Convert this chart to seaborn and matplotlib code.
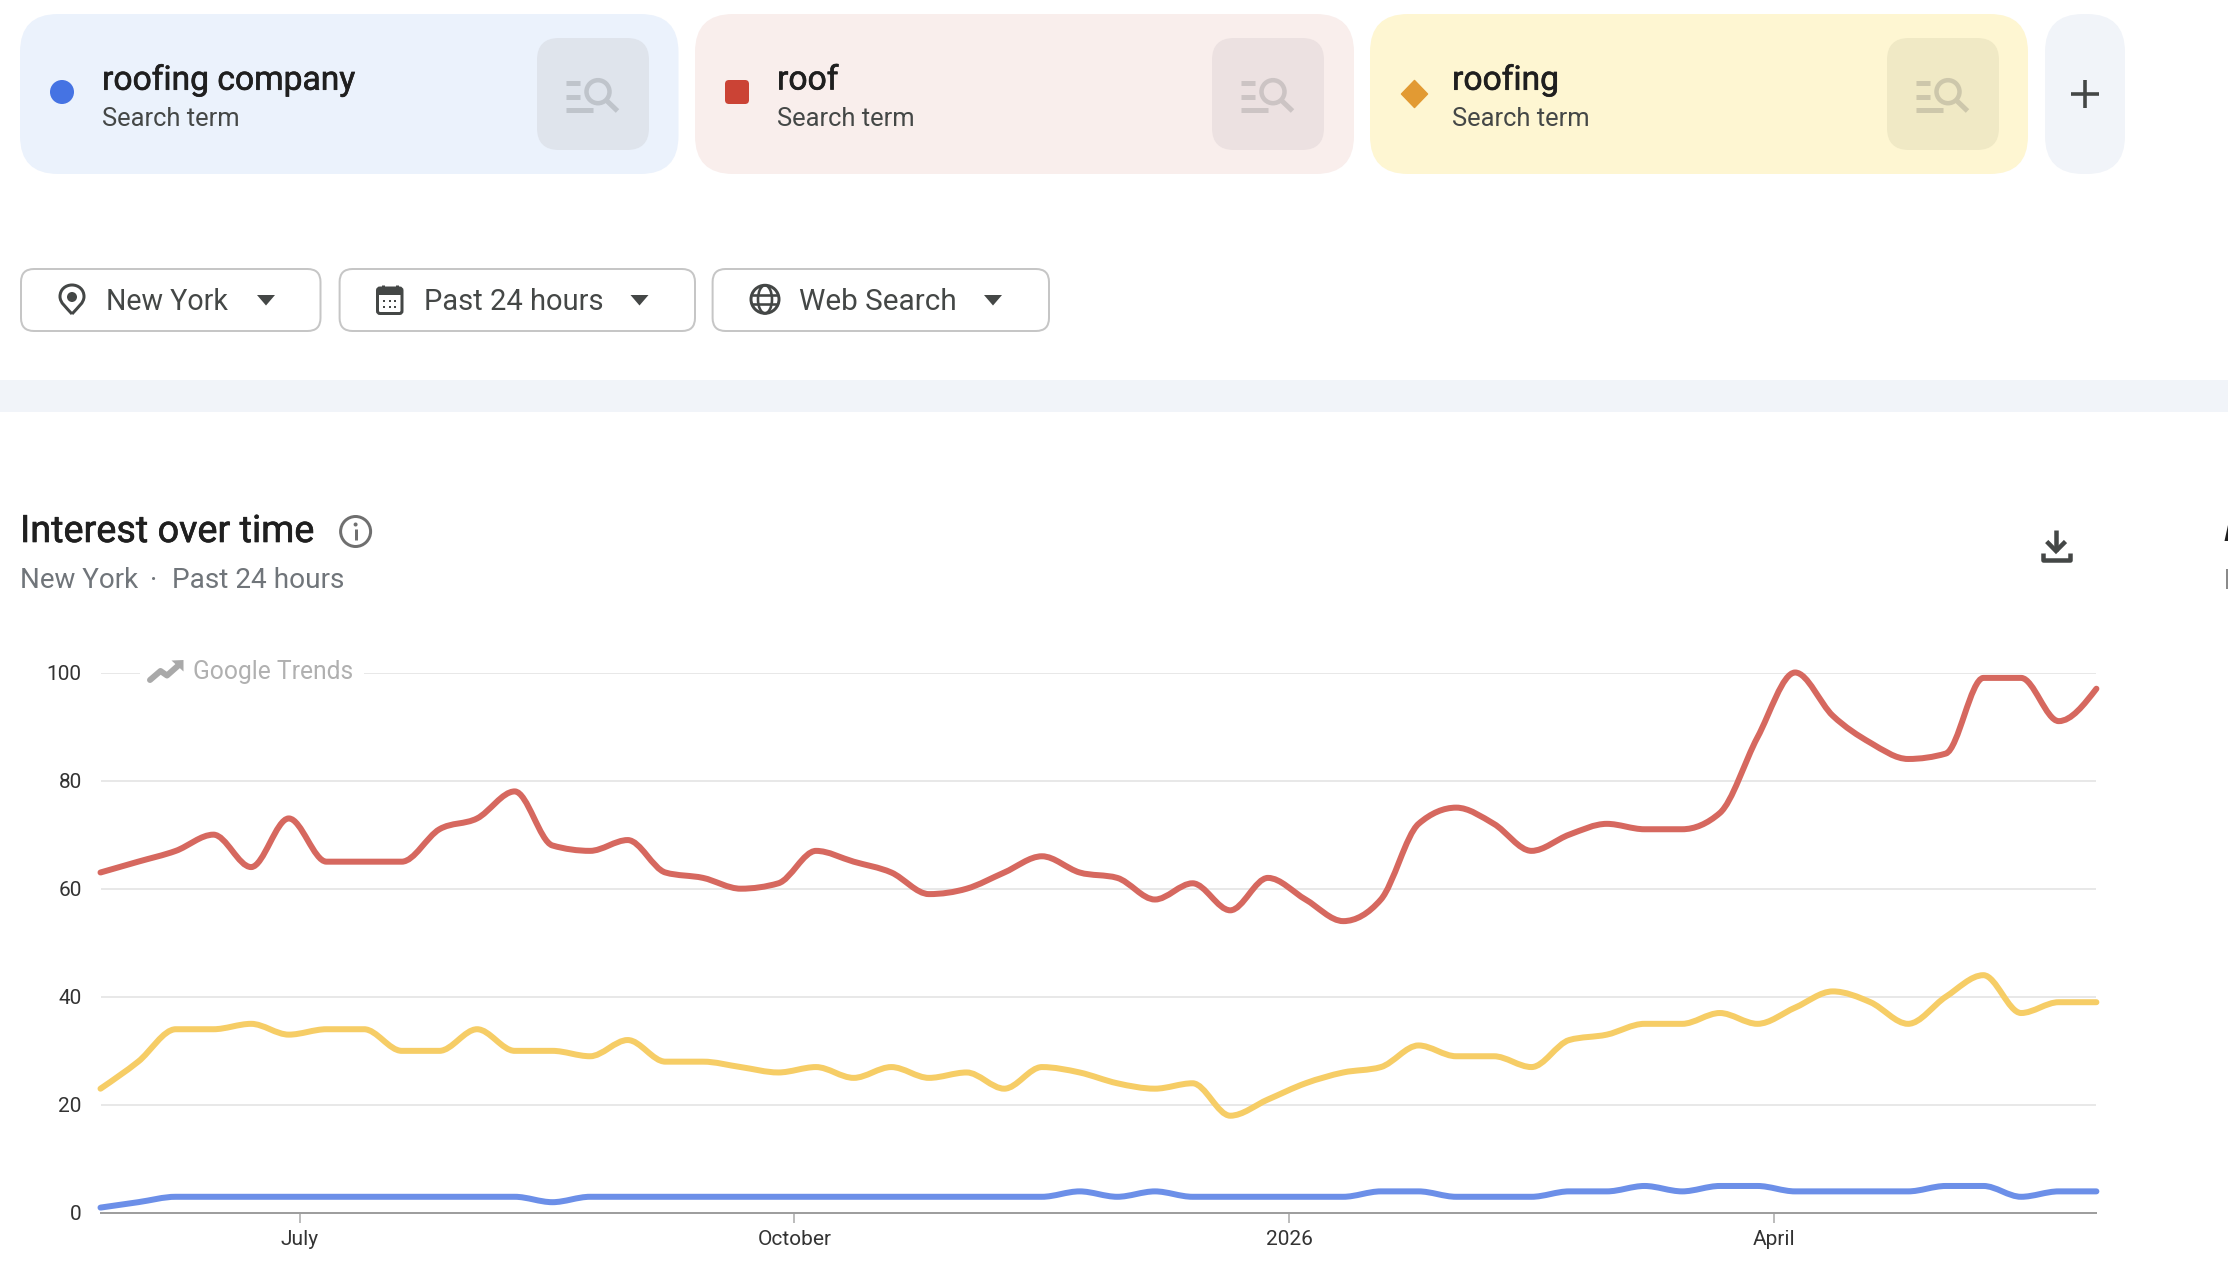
import numpy as np
import pandas as pd
import seaborn as sns
import matplotlib
matplotlib.use("Agg")
import matplotlib.pyplot as plt
import matplotlib.dates as mdates
import matplotlib.patheffects as pe
from matplotlib.patches import FancyBboxPatch, Circle, Ellipse, Polygon, PathPatch, Rectangle
from matplotlib.path import Path

# Weekly interest scores, one value per week
week_start = "2025-05-25"
roofing_company = [1, 2, 3, 3, 3, 3, 3, 3, 3, 3, 3, 3, 2, 3, 3, 3, 3, 3, 3, 3, 3, 3, 3, 3, 3, 3, 4,
                   3, 4, 3, 3, 3, 3, 3, 4, 4, 3, 3, 3, 4, 4, 5, 4, 5, 5, 4, 4, 4, 4, 5, 5, 3, 4, 4]
roof = [63, 65, 67, 70, 64, 73, 65, 65, 65, 71, 73, 78, 68, 67, 69, 63, 62, 60, 61, 67, 65, 63, 59, 60, 63, 66, 63,
        62, 58, 61, 56, 62, 58, 54, 58, 72, 75, 72, 67, 70, 72, 71, 71, 74, 88, 100, 92, 87, 84, 85, 99, 99, 91, 97]
roofing = [23, 28, 34, 34, 35, 33, 34, 34, 30, 30, 34, 30, 30, 29, 32, 28, 28, 27, 26, 27, 25, 27, 25, 26, 23, 27, 26,
           24, 23, 24, 18, 21, 24, 26, 27, 31, 29, 29, 27, 32, 33, 35, 35, 37, 35, 38, 41, 39, 35, 40, 44, 37, 39, 39]
term_names = ["roofing company", "roof", "roofing"]
y_ticks = [0, 20, 40, 60, 80, 100]
x_tick_dates = ["2025-07-01", "2025-10-01", "2026-01-01", "2026-04-01"]
x_tick_labels = ["July", "October", "2026", "April"]
filter_labels = ["New York", "Past 24 hours", "Web Search"]
line_colors = ["#6c8fe8", "#d6685f", "#f6cd66"]

FONT = "Roboto"
INK = "#444746"

sns.set_theme(style="white")
plt.rcParams["font.family"] = [FONT, "DejaVu Sans"]

W, H = 2228, 1264
fig = plt.figure(figsize=(W / 100, H / 100), dpi=100, facecolor="white")


def px(v):
    """Stroke width in points for a width given in pixels."""
    return v * 0.72


# ---- chart ----
L, R, T, B = 100.5, 2096.4, 672.5, 1213.0
LINE_PX = 6
ax = fig.add_axes([L / W, 1 - B / H, (R - L) / W, (B - T) / H], zorder=1)
dates = pd.date_range(week_start, periods=len(roof), freq="7D")
frame = pd.DataFrame({
    "week": np.tile(dates, 3),
    "interest": roofing_company + roof + roofing,
    "term": np.repeat(term_names, len(roof)),
})
sns.lineplot(data=frame, x="week", y="interest", hue="term", hue_order=term_names,
             palette=line_colors, legend=False, linewidth=px(LINE_PX), ax=ax)


def monotone_path(xy):
    """Monotone cubic Bezier through the weekly points, flat at local extremes."""
    x, y = xy[:, 0], xy[:, 1]
    h = np.diff(x)
    s = np.diff(y) / h
    t = np.zeros_like(y, dtype=float)
    for i in range(1, len(y) - 1):
        p = (s[i - 1] * h[i] + s[i] * h[i - 1]) / (h[i - 1] + h[i])
        t[i] = (np.sign(s[i - 1]) + np.sign(s[i])) * min(abs(s[i - 1]), abs(s[i]), 0.5 * abs(p))
    t[0] = (3 * s[0] - t[1]) / 2
    t[-1] = (3 * s[-1] - t[-2]) / 2
    verts, codes = [(x[0], y[0])], [Path.MOVETO]
    for i in range(len(h)):
        d = h[i] / 3
        verts += [(x[i] + d, y[i] + d * t[i]), (x[i + 1] - d, y[i + 1] - d * t[i + 1]), (x[i + 1], y[i + 1])]
        codes += [Path.CURVE4] * 3
    return Path(verts, codes)


# The weekly polylines are swapped for smooth curves through the same points
for line in list(ax.get_lines()):
    curve = PathPatch(monotone_path(line.get_xydata()), fill=False, edgecolor=line.get_color(),
                      linewidth=px(LINE_PX), capstyle="round", joinstyle="round", clip_on=False, zorder=3)
    ax.add_patch(curve)
    line.remove()

ax.set_xlim(dates[0], dates[-1])
ax.set_ylim(0, 100)
ax.set_xlabel("")
ax.set_ylabel("")
ax.set_yticks(y_ticks)
ax.set_xticks(mdates.date2num(pd.to_datetime(x_tick_dates)))
ax.set_xticklabels(x_tick_labels)
ax.yaxis.grid(True, color="#e8e8e8", linewidth=px(2))
ax.xaxis.grid(False)
ax.set_axisbelow(True)
sns.despine(ax=ax, left=True, top=True, right=True)
ax.spines["bottom"].set_color("#9e9e9e")
ax.spines["bottom"].set_linewidth(px(2))
ax.tick_params(axis="y", length=0, pad=13.5, labelsize=15, labelcolor="#333333")
ax.tick_params(axis="x", length=7.5, width=px(1.5), color="#a8a8a8", pad=5, labelsize=15,
               labelcolor="#333333", bottom=True)

# ---- page furniture, laid out in pixel coordinates ----
ui = fig.add_axes([0, 0, 1, 1], zorder=2, facecolor="none")
ui.set_xlim(0, W)
ui.set_ylim(H, 0)
ui.axis("off")


def rounded(x0, y0, x1, y1, r, fc, ec="none", lw=0):
    ui.add_patch(FancyBboxPatch((x0, y0), x1 - x0, y1 - y0, boxstyle=f"round,pad=0,rounding_size={r}",
                                facecolor=fc, edgecolor=ec, linewidth=lw))


def stroke(points, color, width, cap="butt", join="miter"):
    xs, ys = zip(*points)
    ui.plot(xs, ys, color=color, linewidth=px(width), solid_capstyle=cap, solid_joinstyle=join)


def label(x, y, s, size, color, heavy=False):
    t = ui.text(x, y, s, fontsize=size, color=color, ha="left", va="center_baseline",
                family=[FONT, "DejaVu Sans"])
    if heavy:
        # A hairline outline thickens the regular cut slightly
        t.set_path_effects([pe.withStroke(linewidth=0.45, foreground=color)])


def search_icon(x0, color):
    stroke([(x0 + 29, 83), (x0 + 43, 83)], color, 5)
    stroke([(x0 + 29, 96.5), (x0 + 43, 96.5)], color, 5)
    stroke([(x0 + 29, 110), (x0 + 56, 110)], color, 5)
    ui.add_patch(Circle((x0 + 61, 91.7), 11.5, fill=False, edgecolor=color, linewidth=px(4.5)))
    stroke([(x0 + 69, 100), (x0 + 80.5, 111)], color, 5)


cards = [
    (20, 678.5, "#ebf2fc", "#dfe4ec", "#bfc4cb"),
    (695, 1354, "#f9eeec", "#ece1e1", "#ccc4c4"),
    (1370, 2028, "#fef6d2", "#f0e9c5", "#cdc7ab"),
]
for (x0, x1, fill, box, glyph), name in zip(cards, term_names):
    rounded(x0, 14, x1, 174, 38, fill)
    rounded(x0 + 517, 38, x0 + 629, 150, 22, box)
    search_icon(x0 + 517, glyph)
    label(x0 + 82, 77, name, 24.2, "#1f1f1f", heavy=True)
    label(x0 + 82, 117, "Search term", 18.4, "#444746")

ui.add_patch(Circle((62, 92), 12, facecolor="#4573e3", edgecolor="none"))
rounded(725, 80, 749, 104, 4, "#cb4335")
ui.add_patch(Polygon([(1414.5, 80.5), (1427.5, 94), (1414.5, 107.5), (1401.5, 94)], closed=True,
                     facecolor="#e29a33", edgecolor="#e29a33", linewidth=px(1.5), joinstyle="round"))

rounded(2045, 14, 2125, 174, 38, "#f1f4f9")
stroke([(2071, 94), (2099, 94)], INK, 3.6)
stroke([(2085, 80), (2085, 108)], INK, 3.6)

# Filter buttons
buttons = [(21, 320.5, 106.5, 266, 20.6), (339.6, 695, 424, 639.5, 21), (712.6, 1049, 798.6, 993, 21.4)]
for (x0, x1, tx, tri, size), text in zip(buttons, filter_labels):
    rounded(x0, 269, x1, 331, 13, "white", ec="#c6c6c6", lw=px(2))
    label(tx, 299, text, size, INK)
    ui.add_patch(Polygon([(tri - 9, 295), (tri + 9, 295), (tri, 305.5)], closed=True, facecolor=INK, edgecolor="none"))

# Location pin
pin = Path([(72, 314), (66, 307), (60, 303), (60, 296.5), (60, 289.5), (65.5, 285), (72, 285),
            (78.5, 285), (84, 289.5), (84, 296.5), (84, 303), (78, 307), (72, 314)],
           [Path.MOVETO] + [Path.CURVE4] * 12)
ui.add_patch(PathPatch(pin, fill=False, edgecolor=INK, linewidth=px(3), joinstyle="round"))
ui.add_patch(Circle((72, 297), 5, facecolor=INK, edgecolor="none"))

# Calendar
rounded(377.5, 288, 402, 313.5, 2.5, "none", ec=INK, lw=px(3))
ui.add_patch(Rectangle((377.5, 288), 24.5, 7, facecolor=INK, edgecolor="none"))
stroke([(383, 285), (383, 289)], INK, 3)
stroke([(396.5, 285), (396.5, 289)], INK, 3)
for cx in (384, 389.7, 395.4):
    for cy in (301, 307):
        ui.add_patch(Rectangle((cx - 1, cy - 1), 2, 2, facecolor=INK, edgecolor="none"))

# Globe
ui.add_patch(Circle((765, 299.3), 14, fill=False, edgecolor=INK, linewidth=px(3)))
ui.add_patch(Ellipse((765, 299.3), 14, 28, fill=False, edgecolor=INK, linewidth=px(2.6)))
stroke([(752, 294.5), (778, 294.5)], INK, 2.6)
stroke([(752, 304), (778, 304)], INK, 2.6)

# Section divider
ui.add_patch(Rectangle((0, 380), W, 32, facecolor="#f1f4f9", edgecolor="none"))

# Section heading
label(20, 527.5, "Interest over time", 27.2, "#1f1f1f", heavy=True)
ui.add_patch(Circle((355.6, 531.5), 15, fill=False, edgecolor="#6f6f6f", linewidth=px(3)))
ui.add_patch(Circle((355.6, 524.5), 2, facecolor="#6f6f6f", edgecolor="none"))
stroke([(355.6, 529), (355.6, 539.5)], "#6f6f6f", 3)
label(20, 577.5, "New York", 20, "#70757a")
label(150, 577.5, "·", 20, "#70757a")
label(172, 577.5, "Past 24 hours", 20.2, "#70757a")

# Download icon
stroke([(2056, 530), (2056, 551)], INK, 4.5)
stroke([(2046.7, 541.5), (2056, 551), (2065.5, 541.5)], INK, 4.5)
stroke([(2042.5, 552.5), (2042.5, 559.5), (2069.5, 559.5), (2069.5, 552.5)], INK, 4.5, join="round")

# Sliver of the neighbouring panel at the right edge
ui.add_patch(Polygon([(2224.5, 541), (2228, 525), (2228, 541)], closed=True, facecolor="#1f1f1f", edgecolor="none"))
ui.add_patch(Rectangle((2226, 569), 2, 20, facecolor="#8a8a8a", edgecolor="none"))

# Watermark on the top gridline
ui.add_patch(Rectangle((140, 666), 224, 12, facecolor="white", edgecolor="none"))
stroke([(150, 680), (160.5, 671), (167, 675.5), (180, 664)], "#a9a9a9", 6, cap="round", join="round")
ui.add_patch(Polygon([(171.5, 660.5), (183.5, 660), (183.5, 671.5)], closed=True, facecolor="#a9a9a9", edgecolor="none"))
label(193, 670, "Google Trends", 17.7, "#b0b0b0")

fig.savefig("out.png", dpi=100, facecolor="white")
